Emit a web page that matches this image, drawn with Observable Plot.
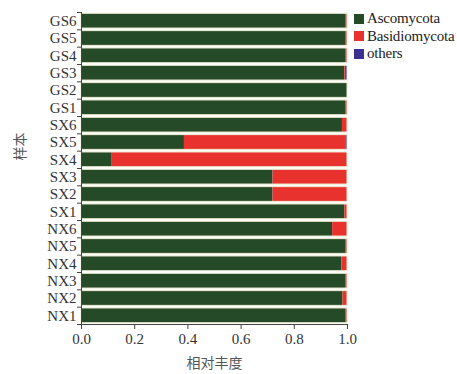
<!DOCTYPE html>
<html>
<head>
<meta charset="utf-8">
<script src="https://cdn.jsdelivr.net/npm/d3@7"></script>
<script src="https://cdn.jsdelivr.net/npm/@observablehq/plot@0.6"></script>
<style>
  body { margin: 0; background: #fff; }
  #wrap { position: relative; width: 457px; height: 374px; }
  #wrap svg text { font-family: "Liberation Serif", "Times New Roman", serif; }
  #legend { position: absolute; left: 354px; top: 10px; font: 15px "Liberation Serif", serif; letter-spacing: -0.2px; color: #222; white-space: nowrap; }
  #legend div { display: flex; align-items: center; height: 17.5px; }
  #legend span.sw { width: 10px; height: 10px; margin-right: 3px; display: inline-block; }
</style>
</head>
<body>
<div id="wrap"></div>
<script>
// Samples from bottom to top
const samples = ["NX1","NX2","NX3","NX4","NX5","NX6","SX1","SX2","SX3","SX4","SX5","SX6","GS1","GS2","GS3","GS4","GS5","GS6"];
const phyla = ["Ascomycota", "Basidiomycota", "others"];
const colors = ["#244a27", "#e8322d", "#3b2f92"];

// Relative abundance per sample, in the same order as `samples`
const ascomycota    = [0.995, 0.983, 0.993, 0.979, 0.995, 0.944, 0.990, 0.720, 0.720, 0.113, 0.387, 0.981, 0.993, 1.000, 0.990, 0.995, 0.995, 0.995];
const basidiomycota = [0.005, 0.017, 0.007, 0.021, 0.005, 0.056, 0.010, 0.280, 0.280, 0.887, 0.607, 0.019, 0.007, 0.000, 0.003, 0.005, 0.005, 0.005];
const others        = [0.000, 0.000, 0.000, 0.000, 0.000, 0.000, 0.000, 0.000, 0.000, 0.000, 0.006, 0.000, 0.000, 0.000, 0.007, 0.000, 0.000, 0.000];

const xTicks = [0, 0.2, 0.4, 0.6, 0.8, 1.0];

const series = [ascomycota, basidiomycota, others];
const rows = [];
samples.forEach((s, i) => {
  phyla.forEach((p, k) => rows.push({sample: s, idx: i, phylum: p, value: series[k][i]}));
});

const serif = "'Liberation Serif', 'Times New Roman', serif";
const cjk = "'Noto Sans CJK SC', sans-serif";

const chart = Plot.plot({
  width: 457,
  height: 374,
  marginLeft: 81,
  marginRight: 110,
  marginTop: 12,
  marginBottom: 50,
  style: {fontSize: "15px", color: "#333", background: "#fff"},
  x: {domain: [0, 1]},
  y: {domain: [0, samples.length]},
  color: {domain: phyla, range: colors},
  marks: [
    Plot.rectX(rows, {
      x: "value",
      y1: "idx",
      y2: d => d.idx + 1,
      fill: "phylum",
      order: phyla,
      insetTop: 1.3,
      insetBottom: 1.3
    }),
    // pale outline around each sample bar
    Plot.rect(samples, {
      x1: 0, x2: 1,
      y1: (d, i) => i, y2: (d, i) => i + 1,
      fill: "none",
      stroke: "#eeecd2",
      strokeWidth: 1,
      insetTop: 1.3,
      insetBottom: 1.3
    }),
    Plot.axisX({ticks: xTicks, tickFormat: d3.format(".1f"), tickSize: 5, tickPadding: 4, label: null, fontSize: 15, fontFamily: serif, stroke: "#444"}),
    Plot.axisY({ticks: d3.range(0, samples.length + 1), tickFormat: () => "", tickSize: 4, label: null, stroke: "#444"}),
    Plot.axisY({ticks: samples.map((s, i) => i + 0.5), tickFormat: d => samples[Math.floor(d)], tickSize: 0, tickPadding: 5, label: null, fontSize: 15, fontFamily: serif}),
    Plot.ruleX([0], {stroke: "#444"}),
    Plot.ruleY([0], {stroke: "#444"}),
    Plot.text(["相对丰度"], {frameAnchor: "bottom", dy: 43, fontFamily: cjk, fontSize: 14, fill: "#555"}),
    Plot.text(["样本"], {frameAnchor: "left", dx: -61, dy: -8, rotate: -90, fontFamily: cjk, fontSize: 14, fill: "#555"})
  ]
});

const wrap = document.getElementById("wrap");
wrap.appendChild(chart);
// CJK titles keep their own family
chart.querySelectorAll("text").forEach(t => {
  if (/[\u4e00-\u9fff]/.test(t.textContent)) t.style.fontFamily = cjk;
});

const legend = document.createElement("div");
legend.id = "legend";
phyla.forEach((p, k) => {
  const row = document.createElement("div");
  const sw = document.createElement("span");
  sw.className = "sw";
  sw.style.background = colors[k];
  row.appendChild(sw);
  row.appendChild(document.createTextNode(p));
  legend.appendChild(row);
});
wrap.appendChild(legend);
</script>
</body>
</html>
